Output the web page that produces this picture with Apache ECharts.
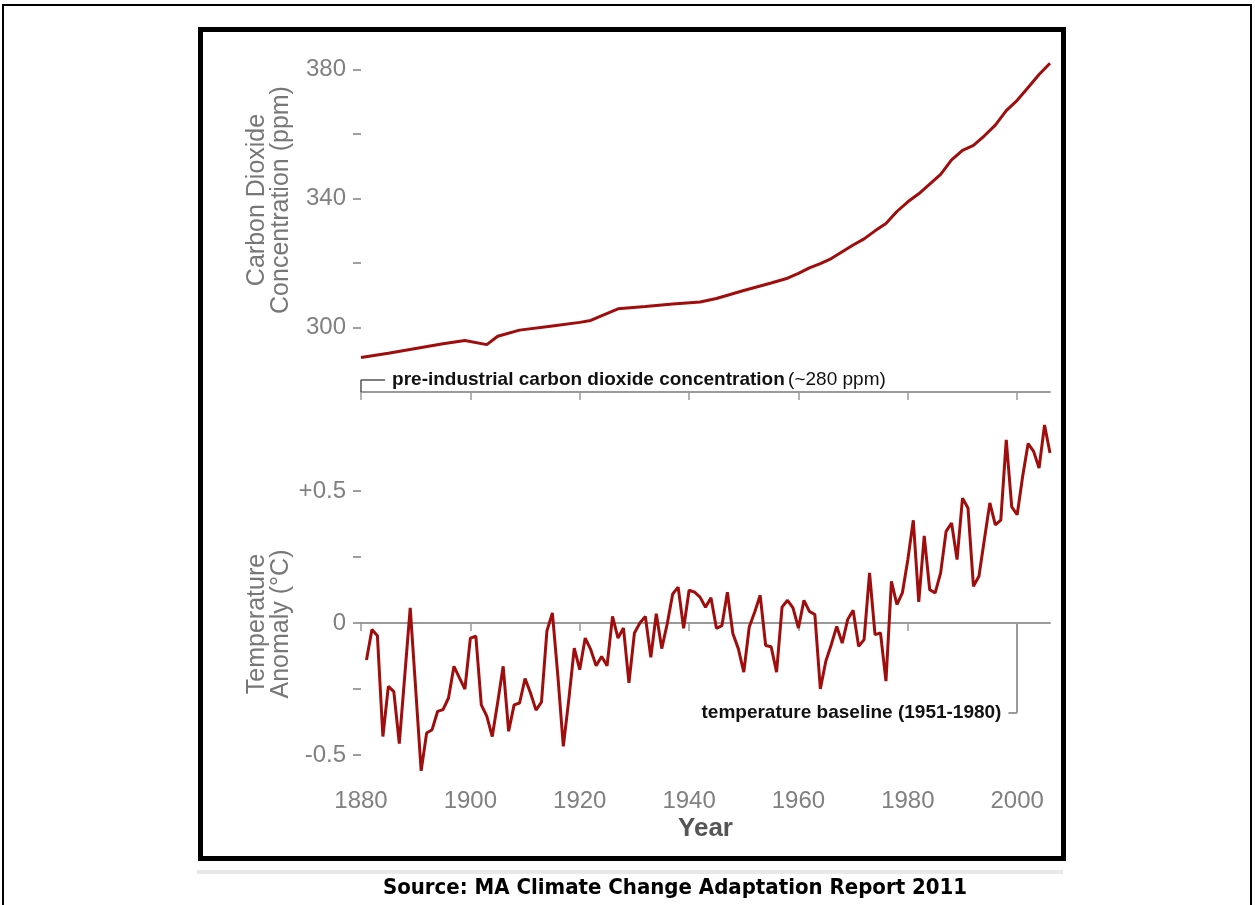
<!DOCTYPE html>
<html>
<head>
<meta charset="utf-8">
<script src="https://cdn.jsdelivr.net/npm/echarts@6/dist/echarts.min.js"></script>
<style>
  html, body { margin: 0; padding: 0; background: #fff; }
  #chart { width: 1255px; height: 905px; }
</style>
</head>
<body>
<div id="chart"></div>
<script>
// CO2 concentration (ppm)
var co2Years = [1880, 1885, 1890, 1895, 1899, 1903, 1905, 1909, 1915, 1920, 1922, 1927, 1932, 1937, 1942,
                1945, 1950, 1955, 1958, 1960, 1962, 1964, 1966, 1968, 1970, 1972, 1974, 1976, 1978, 1980,
                1982, 1984, 1986, 1988, 1990, 1992, 1994, 1996, 1998, 2000, 2002, 2004, 2006];
var co2Values = [290.7, 292, 293.5, 295, 296, 294.7, 297.3, 299.2, 300.5, 301.6, 302.2, 305.8, 306.5, 307.3, 307.9,
                 309, 311.5, 313.8, 315.3, 316.8, 318.5, 319.8, 321.4, 323.5, 325.6, 327.5, 330, 332.3, 336, 339,
                 341.5, 344.5, 347.5, 352, 355, 356.5, 359.5, 362.8, 367.3, 370.5, 374.5, 378.5, 382];

// temperature anomaly (deg C), one value per year from 1881
var tempStart = 1881;
var tempValues = [
  -0.14, -0.025, -0.048, -0.43, -0.24, -0.26, -0.457, -0.20, 0.057, -0.25,      // 1881-1890
  -0.56, -0.417, -0.404, -0.335, -0.328, -0.284, -0.164, -0.208, -0.25, -0.057, // 1891-1900
  -0.05, -0.31, -0.353, -0.43, -0.30, -0.164, -0.41, -0.31, -0.303, -0.21,      // 1901-1910
  -0.265, -0.33, -0.30, -0.03, 0.038, -0.20, -0.467, -0.29, -0.095, -0.177,     // 1911-1920
  -0.057, -0.10, -0.162, -0.127, -0.162, 0.025, -0.057, -0.019, -0.227, -0.038, // 1921-1930
  0.0, 0.025, -0.13, 0.035, -0.097, -0.003, 0.11, 0.136, -0.02, 0.124,          // 1931-1940
  0.117, 0.098, 0.06, 0.096, -0.02, -0.01, 0.117, -0.04, -0.097, -0.186,        // 1941-1950
  -0.015, 0.042, 0.105, -0.085, -0.09, -0.186, 0.06, 0.086, 0.057, -0.019,      // 1951-1960
  0.086, 0.044, 0.032, -0.25, -0.145, -0.082, -0.013, -0.076, 0.013, 0.048,     // 1961-1970
  -0.088, -0.063, 0.19, -0.044, -0.038, -0.22, 0.158, 0.07, 0.114, 0.24,        // 1971-1980
  0.389, 0.08, 0.33, 0.126, 0.114, 0.19, 0.347, 0.379, 0.24, 0.473,             // 1981-1990
  0.436, 0.139, 0.177, 0.316, 0.455, 0.372, 0.39, 0.694, 0.44, 0.41,            // 1991-2000
  0.556, 0.68, 0.65, 0.587, 0.75, 0.644                                         // 2001-2006
];

var yearTicks = [1880, 1900, 1920, 1940, 1960, 1980, 2000];
var co2Ticks = [300, 320, 340, 360, 380];
var co2Labels = [300, 340, 380];
var tempTicks = [-0.5, -0.25, 0, 0.25, 0.5];
var tempLabels = [-0.5, 0, 0.5];

var lineColor = '#a00d0d';
var axisGray = '#9a9a9a';
var textGray = '#808080';
var font = '"Liberation Sans", Arial, sans-serif';

var co2Data = co2Years.map(function (y, i) { return [y, co2Values[i]]; });
var tempData = tempValues.map(function (v, i) { return [tempStart + i, v]; });

var dom = document.getElementById('chart');
var myChart = echarts.init(dom);

var option = {
    animation: false,
    textStyle: { fontFamily: font },
    grid: [
        { left: 361, width: 689, top: 31, height: 361 },
        { left: 361, width: 689, top: 392, height: 391 }
    ],
    xAxis: [
        {
            type: 'value', gridIndex: 0, min: 1880, max: 2006,
            splitLine: { show: false },
            axisLine: { lineStyle: { color: axisGray, width: 2 } },
            axisTick: { show: true, length: 8, customValues: yearTicks, lineStyle: { color: axisGray, width: 1.5 } },
            axisLabel: { show: false }
        },
        {
            type: 'value', gridIndex: 1, min: 1880, max: 2006,
            splitLine: { show: false },
            axisLine: { lineStyle: { color: axisGray, width: 2 } },
            axisTick: { show: true, length: 8, customValues: yearTicks, lineStyle: { color: axisGray, width: 1.5 } },
            axisLabel: {
                customValues: yearTicks, color: textGray, fontSize: 24, margin: 6, fontFamily: font,
                formatter: function (v) { return String(v); }
            },
            name: 'Year', nameLocation: 'middle', nameGap: 33,
            nameTextStyle: { color: '#555', fontSize: 26, fontWeight: 'bold', fontFamily: font }
        }
    ],
    yAxis: [
        {
            type: 'value', gridIndex: 0, min: 280, max: 392,
            splitLine: { show: false },
            axisLine: { show: false },
            axisTick: { show: true, length: 8, customValues: co2Ticks, lineStyle: { color: textGray, width: 1.5 } },
            axisLabel: { customValues: co2Labels, color: textGray, fontSize: 24, margin: 15, fontFamily: font }
        },
        {
            type: 'value', gridIndex: 1, min: -0.606, max: 0.875,
            splitLine: { show: false },
            axisLine: { show: false },
            axisTick: { show: true, length: 8, customValues: tempTicks, lineStyle: { color: textGray, width: 1.5 } },
            axisLabel: {
                customValues: tempLabels, color: textGray, fontSize: 24, margin: 15, fontFamily: font,
                formatter: function (v) { return v > 0 ? '+' + v : String(v); }
            }
        }
    ],
    series: [
        {
            name: 'CO2', type: 'line', xAxisIndex: 0, yAxisIndex: 0,
            data: co2Data, showSymbol: false, z: 3,
            lineStyle: { color: lineColor, width: 3 },
            markLine: {
                silent: true, symbol: 'none', z: 1,
                lineStyle: { color: '#555', width: 1.5, type: 'solid' },
                label: { show: false },
                data: [
                    [{ coord: [1880, 280] }, { coord: [1880, 283.8] }],
                    [{ coord: [1880, 283.8] }, {
                        coord: [1884.4, 283.8],
                        label: {
                            show: true, position: 'end', distance: 7,
                            formatter: '{b|pre-industrial carbon dioxide concentration} {n|(~280 ppm)}',
                            rich: {
                                b: { fontWeight: 'bold', fontSize: 19, color: '#111', fontFamily: font },
                                n: { fontSize: 19, color: '#111', fontFamily: font }
                            }
                        }
                    }]
                ]
            }
        },
        {
            name: 'Temperature', type: 'line', xAxisIndex: 1, yAxisIndex: 1,
            data: tempData, showSymbol: false, z: 3,
            lineStyle: { color: lineColor, width: 3 },
            markLine: {
                silent: true, symbol: 'none', z: 1,
                lineStyle: { color: axisGray, width: 2, type: 'solid' },
                label: { show: false },
                data: [
                    { yAxis: 0 },
                    [{ coord: [2000, 0] }, { coord: [2000, -0.34] }],
                    [{ coord: [2000, -0.34] }, {
                        coord: [1998.4, -0.34],
                        label: {
                            show: true, position: 'end', distance: 7,
                            formatter: 'temperature baseline (1951-1980)',
                            fontWeight: 'bold', fontSize: 19, color: '#111', fontFamily: font
                        }
                    }]
                ]
            }
        }
    ],
    graphic: [
        { type: 'rect', silent: true, z: 10, shape: { x: 3, y: 5, width: 1248, height: 920 },
          style: { fill: null, stroke: '#000', lineWidth: 2 } },
        { type: 'rect', silent: true, z: 10, shape: { x: 200.5, y: 29.5, width: 863, height: 829 },
          style: { fill: null, stroke: '#000', lineWidth: 5 } },
        { type: 'rect', silent: true, z: 10, shape: { x: 197, y: 870, width: 866, height: 4 },
          style: { fill: '#e8e8e8' } },
        { type: 'text', silent: true, z: 10, x: 269, y: 200, rotation: Math.PI / 2,
          style: { text: 'Carbon Dioxide\nConcentration (ppm)', fill: '#777', fontSize: 25, lineHeight: 24,
                   fontFamily: font, align: 'center', verticalAlign: 'middle' } },
        { type: 'text', silent: true, z: 10, x: 269, y: 624, rotation: Math.PI / 2,
          style: { text: 'Temperature\nAnomaly (\u00b0C)', fill: '#777', fontSize: 25, lineHeight: 24,
                   fontFamily: font, align: 'center', verticalAlign: 'middle' } },
        { type: 'text', silent: true, z: 10, x: 675, y: 888,
          style: { text: 'Source: MA Climate Change Adaptation Report 2011', fill: '#000', fontSize: 22,
                   fontWeight: 'bold', fontFamily: '"Liberation Sans Narrow", "DejaVu Sans Condensed", sans-serif',
                   align: 'center', verticalAlign: 'middle' } }
    ]
};

if (option && typeof option === "object") {
    myChart.setOption(option, false);
}
</script>
</body>
</html>
